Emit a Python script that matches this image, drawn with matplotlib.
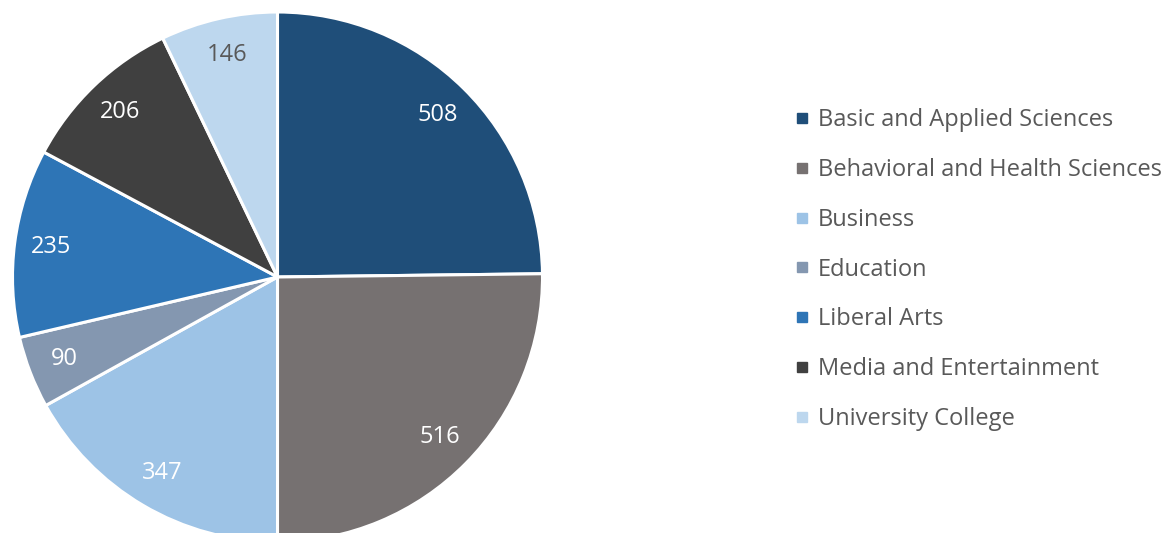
import matplotlib
matplotlib.use("Agg")
import matplotlib.pyplot as plt
from matplotlib.lines import Line2D

# ---------- data ----------
colleges = ["Basic and Applied Sciences", "Behavioral and Health Sciences", "Business",
            "Education", "Liberal Arts", "Media and Entertainment", "University College"]
counts = [508, 516, 347, 90, 235, 206, 146]
colors = ["#1F4E79", "#767171", "#9DC3E6", "#8497B0", "#2E75B6", "#404040", "#BDD7EE"]
label_colors = ["white", "white", "white", "white", "white", "white", "#595959"]

plt.rcParams["font.family"] = ["Open Sans", "DejaVu Sans"]

fig = plt.figure(figsize=(11.76, 5.33), dpi=100)
ax = fig.add_axes([12.5 / 1176, -9 / 533, 530 / 1176, 530 / 533])

wedges, texts, autotexts = ax.pie(
    counts, colors=colors, startangle=90, counterclock=False,
    autopct=lambda p: f"{round(p * sum(counts) / 100):d}", pctdistance=0.86,
    wedgeprops=dict(edgecolor="white", linewidth=2.2),
    textprops=dict(fontsize=17), radius=1.0)
for t, c in zip(autotexts, label_colors):
    t.set_color(c)
ax.set_xlim(-1, 1)
ax.set_ylim(-1, 1)
ax.set_aspect("equal")
ax.axis("off")

handles = [Line2D([], [], marker="s", linestyle="", markersize=6.5, color=c) for c in colors]
fig.legend(handles, colleges, loc="upper left", bbox_to_anchor=(781 / 1176, 1 - 99 / 533),
           frameon=False, fontsize=17, labelcolor="#595959", handletextpad=0.15,
           labelspacing=1.09, handlelength=1.0, borderaxespad=0)

plt.savefig("out.png", dpi=100, facecolor="white")
